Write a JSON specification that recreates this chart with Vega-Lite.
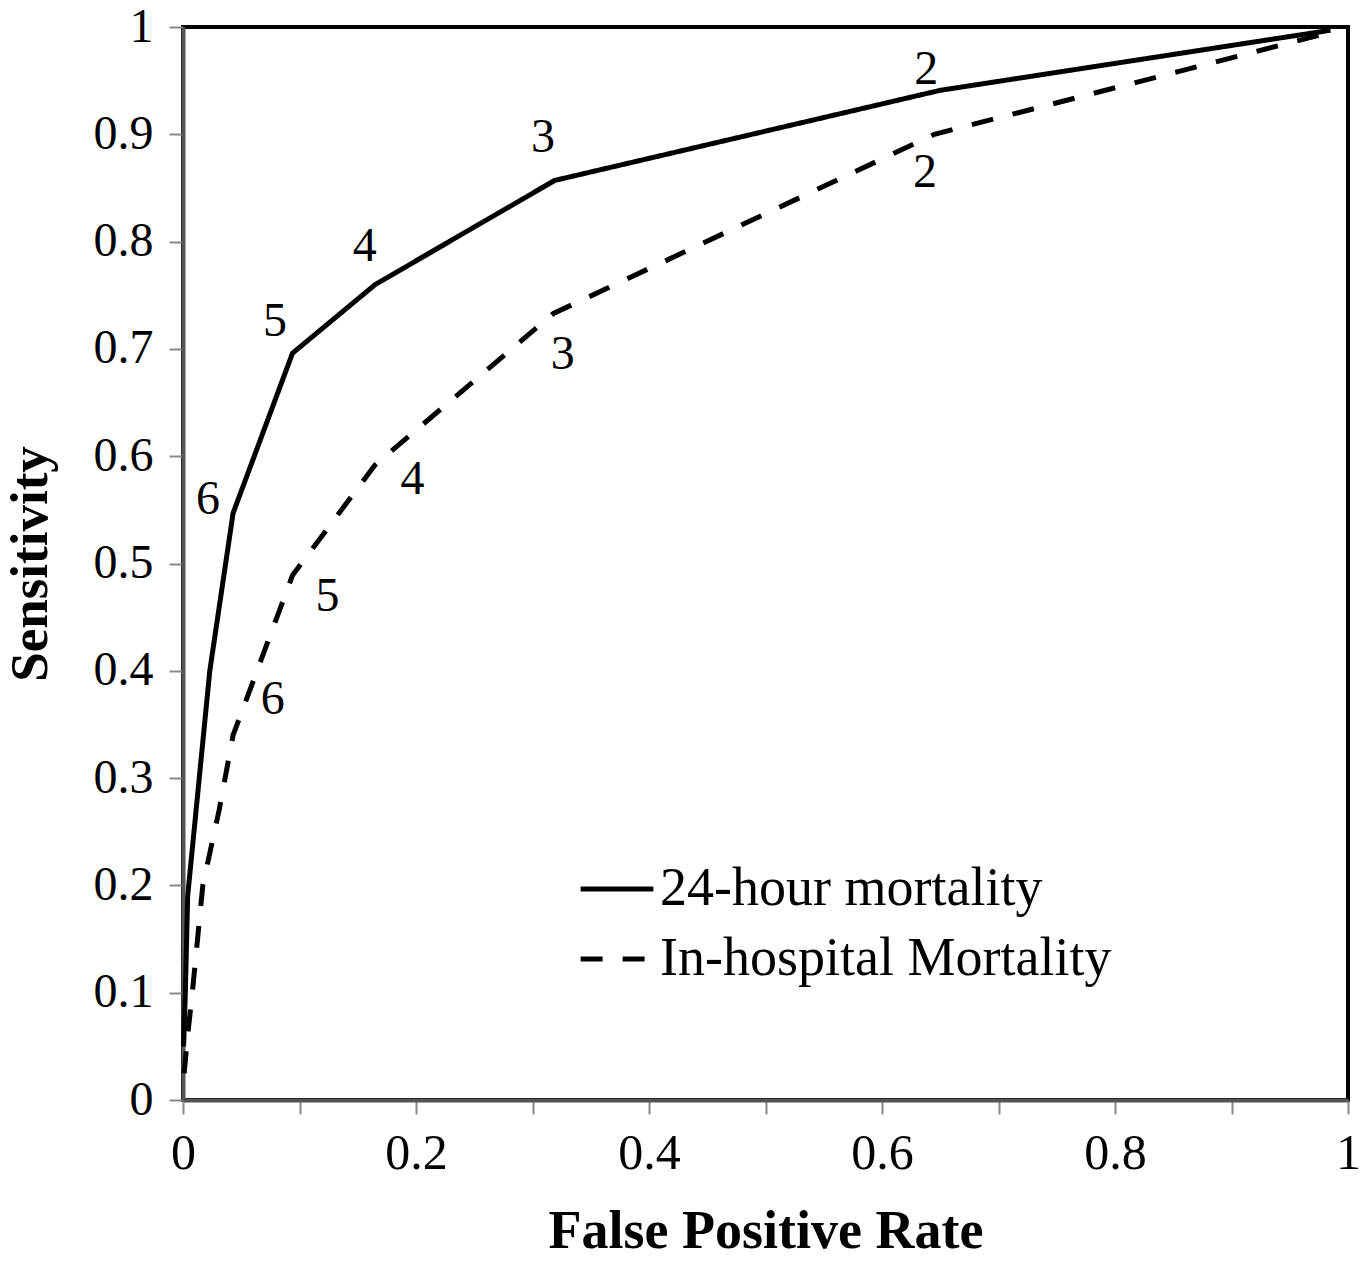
{
  "$schema": "https://vega.github.io/schema/vega-lite/v6.json",
  "width": 1165,
  "height": 1073,
  "autosize": "none",
  "padding": {"left": 183, "top": 27, "right": 22, "bottom": 163},
  "background": "white",
  "config": {
    "view": {"stroke": "black", "strokeWidth": 4},
    "font": "Liberation Serif"
  },
  "datasets": {
    "curves": [
      {"series": "24-hour mortality", "fpr": 0.0005, "sens": 0.05},
      {"series": "24-hour mortality", "fpr": 0.002, "sens": 0.1},
      {"series": "24-hour mortality", "fpr": 0.004, "sens": 0.19},
      {"series": "24-hour mortality", "fpr": 0.023, "sens": 0.4},
      {"series": "24-hour mortality", "fpr": 0.043, "sens": 0.547},
      {"series": "24-hour mortality", "fpr": 0.094, "sens": 0.696},
      {"series": "24-hour mortality", "fpr": 0.165, "sens": 0.76},
      {"series": "24-hour mortality", "fpr": 0.319, "sens": 0.857},
      {"series": "24-hour mortality", "fpr": 0.65, "sens": 0.941},
      {"series": "24-hour mortality", "fpr": 0.985, "sens": 0.997},
      {"series": "In-hospital Mortality", "fpr": 0.001, "sens": 0.025},
      {"series": "In-hospital Mortality", "fpr": 0.004, "sens": 0.06},
      {"series": "In-hospital Mortality", "fpr": 0.008, "sens": 0.1},
      {"series": "In-hospital Mortality", "fpr": 0.017, "sens": 0.2},
      {"series": "In-hospital Mortality", "fpr": 0.031, "sens": 0.27},
      {"series": "In-hospital Mortality", "fpr": 0.043, "sens": 0.34},
      {"series": "In-hospital Mortality", "fpr": 0.094, "sens": 0.489},
      {"series": "In-hospital Mortality", "fpr": 0.165, "sens": 0.592},
      {"series": "In-hospital Mortality", "fpr": 0.318, "sens": 0.733},
      {"series": "In-hospital Mortality", "fpr": 0.645, "sens": 0.9},
      {"series": "In-hospital Mortality", "fpr": 0.985, "sens": 0.995}
    ],
    "labels": [
      {"label": "2", "fpr": 0.638, "sens": 0.96},
      {"label": "3", "fpr": 0.309, "sens": 0.897},
      {"label": "4", "fpr": 0.156, "sens": 0.795},
      {"label": "5", "fpr": 0.079, "sens": 0.725},
      {"label": "6", "fpr": 0.0215, "sens": 0.559},
      {"label": "2", "fpr": 0.637, "sens": 0.864},
      {"label": "3", "fpr": 0.326, "sens": 0.694},
      {"label": "4", "fpr": 0.197, "sens": 0.578},
      {"label": "5", "fpr": 0.124, "sens": 0.469},
      {"label": "6", "fpr": 0.077, "sens": 0.373}
    ]
  },
  "layer": [
    {
      "data": {"name": "curves"},
      "mark": {"type": "line", "strokeWidth": 5, "color": "black", "strokeCap": "butt"},
      "encoding": {
        "x": {
          "field": "fpr", "type": "quantitative",
          "scale": {"domain": [0, 1], "nice": false, "zero": false},
          "axis": {
            "values": [0, 0.1, 0.2, 0.3, 0.4, 0.5, 0.6, 0.7, 0.8, 0.9, 1],
            "labelExpr": "round(datum.value*10) % 2 == 0 ? format(datum.value, '~g') : ''",
            "grid": false,
            "labelFlush": false,
            "labelOverlap": false,
            "tickSize": 14,
            "tickWidth": 2,
            "tickColor": "#888888",
            "domainColor": "#555555",
            "domainWidth": 4,
            "labelFontSize": 50,
            "labelColor": "black",
            "labelPadding": 14,
            "title": "False Positive Rate",
            "titleFontSize": 54,
            "titleFontWeight": "bold",
            "titleColor": "black",
            "titlePadding": 26
          }
        },
        "y": {
          "field": "sens", "type": "quantitative",
          "scale": {"domain": [0, 1], "nice": false, "zero": false},
          "axis": {
            "values": [0, 0.1, 0.2, 0.3, 0.4, 0.5, 0.6, 0.7, 0.8, 0.9, 1],
            "labelExpr": "format(datum.value, '~g')",
            "grid": false,
            "labelFlush": false,
            "labelOverlap": false,
            "tickSize": 14,
            "tickWidth": 2,
            "tickColor": "#888888",
            "domainColor": "#555555",
            "domainWidth": 4,
            "labelFontSize": 48,
            "labelColor": "black",
            "labelPadding": 16,
            "title": "Sensitivity",
            "titleFontSize": 53,
            "titleFontWeight": "bold",
            "titleColor": "black",
            "titlePadding": 36
          }
        },
        "strokeDash": {
          "field": "series", "type": "nominal",
          "scale": {
            "domain": ["24-hour mortality", "In-hospital Mortality"],
            "range": [[1, 0], [22, 20]]
          },
          "legend": {
            "orient": "none",
            "legendX": 395,
            "legendY": 823,
            "title": null,
            "symbolType": "stroke",
            "symbolSize": 5300,
            "symbolStrokeWidth": 5,
            "symbolStrokeColor": "black",
            "labelFontSize": 54,
            "labelFont": "Liberation Serif",
            "labelColor": "black",
            "labelOffset": 4,
            "labelLimit": 700,
            "rowPadding": 4
          }
        }
      }
    },
    {
      "data": {"name": "labels"},
      "mark": {"type": "text", "fontSize": 48, "font": "Liberation Serif", "color": "black", "baseline": "middle", "align": "center"},
      "encoding": {
        "x": {"field": "fpr", "type": "quantitative"},
        "y": {"field": "sens", "type": "quantitative"},
        "text": {"field": "label"}
      }
    }
  ]
}
